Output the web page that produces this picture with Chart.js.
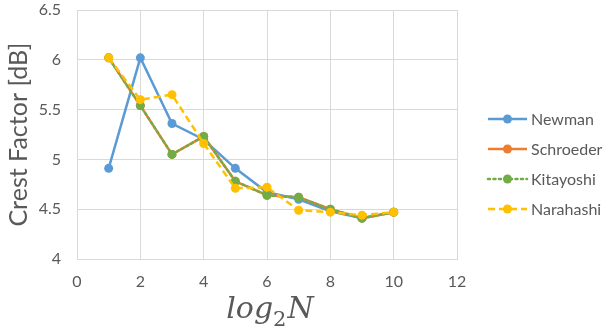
<!DOCTYPE html>
<html>
<head>
<meta charset="utf-8">
<script src="https://cdn.jsdelivr.net/npm/chart.js@4/dist/chart.umd.min.js"></script>
<style>
html,body{margin:0;padding:0;background:#fff;}
#wrap{width:603px;height:333px;position:relative;}
</style>
</head>
<body>
<div id="wrap"><canvas id="c" width="603" height="333"></canvas></div>
<script>
const xValues = [1, 2, 3, 4, 5, 6, 7, 8, 9, 10];
const newman = [4.91, 6.02, 5.36, 5.20, 4.91, 4.67, 4.60, 4.48, 4.41, 4.47];
const schroeder = [6.02, 5.54, 5.05, 5.23, 4.78, 4.64, 4.62, 4.50, 4.41, 4.47];
const kitayoshi = [6.02, 5.54, 5.05, 5.23, 4.78, 4.64, 4.62, 4.50, 4.41, 4.47];
const narahashi = [6.02, 5.60, 5.65, 5.16, 4.71, 4.72, 4.49, 4.47, 4.44, 4.47];
const seriesNames = ["Newman", "Schroeder", "Kitayoshi", "Narahashi"];
const yTitle = "Crest Factor [dB]";
const xTitleParts = ["log", "2", "N"];

const colors = ["#5B9BD5", "#ED7D31", "#70AD47", "#FFC000"];
const dashes = [[], [], [2, 3.5], [7, 4]];
const orders = [4, 3, 2, 1];
const allSeries = [newman, schroeder, kitayoshi, narahashi];
const textColor = '#595959';
const uiFont = 'Lato, "Open Sans", sans-serif';

const datasets = allSeries.map((vals, i) => ({
  label: seriesNames[i],
  data: xValues.map((x, j) => ({x: x, y: vals[j]})),
  borderColor: colors[i],
  backgroundColor: colors[i],
  pointBackgroundColor: colors[i],
  pointBorderColor: colors[i],
  borderWidth: 2.5,
  borderDash: dashes[i],
  borderCapStyle: i === 2 ? 'round' : 'butt',
  pointRadius: 4.5,
  pointHoverRadius: 4.5,
  pointBorderWidth: 0,
  tension: 0,
  order: orders[i],
  fill: false
}));

const legendPlugin = {
  id: 'customLegend',
  afterDraw(chart) {
    const ctx = chart.ctx;
    const x0 = 488, x1 = 527, tx = 531;
    const ys = [119, 149, 179, 209];
    ctx.save();
    seriesNames.forEach((name, i) => {
      const y = ys[i];
      ctx.strokeStyle = colors[i];
      ctx.lineWidth = 2.5;
      ctx.lineCap = i === 2 ? 'round' : 'butt';
      ctx.setLineDash(dashes[i]);
      ctx.beginPath();
      ctx.moveTo(x0, y);
      ctx.lineTo(x1, y);
      ctx.stroke();
      ctx.setLineDash([]);
      ctx.fillStyle = colors[i];
      ctx.beginPath();
      ctx.arc((x0 + x1) / 2, y, 4.5, 0, Math.PI * 2);
      ctx.fill();
      ctx.fillStyle = textColor;
      ctx.font = '16px ' + uiFont;
      ctx.textBaseline = 'middle';
      ctx.textAlign = 'left';
      ctx.fillText(name, tx, y + 1);
    });
    // x-axis title: italic "log", upright subscript "2", italic "N"
    const area = chart.chartArea;
    const cx = (area.left + area.right) / 2 + 3;
    const baseY = 318;
    const fBig = 'italic 30px "DejaVu Serif", serif';
    const fSub = '21px "DejaVu Serif", serif';
    ctx.font = fBig; const w0 = ctx.measureText(xTitleParts[0]).width;
    const w2 = ctx.measureText(xTitleParts[2]).width;
    ctx.font = fSub; const w1 = ctx.measureText(xTitleParts[1]).width;
    let x = cx - (w0 + w1 + w2 + 1) / 2;
    ctx.fillStyle = textColor;
    ctx.textBaseline = 'alphabetic';
    ctx.textAlign = 'left';
    ctx.font = fBig; ctx.fillText(xTitleParts[0], x, baseY); x += w0;
    ctx.font = fSub; ctx.fillText(xTitleParts[1], x, baseY + 8); x += w1 + 1;
    ctx.font = fBig; ctx.fillText(xTitleParts[2], x, baseY);
    ctx.restore();
  }
};

new Chart(document.getElementById('c'), {
  type: 'line',
  data: { datasets: datasets },
  plugins: [legendPlugin],
  options: {
    responsive: false,
    animation: false,
    events: [],
    layout: { padding: { top: 10, right: 146, left: 0, bottom: 0 } },
    plugins: { legend: { display: false }, tooltip: { enabled: false } },
    scales: {
      x: {
        type: 'linear',
        min: 0, max: 12,
        ticks: { stepSize: 2, color: textColor, font: { family: uiFont, size: 16 }, padding: 13, maxRotation: 0 },
        grid: { color: '#d9d9d9', lineWidth: 1, drawTicks: false },
        border: { color: '#d9d9d9', width: 1 },
        afterFit(scale) { scale.height = 74; scale.paddingLeft = 0; scale.paddingRight = 0; }
      },
      y: {
        type: 'linear',
        min: 4, max: 6.5,
        ticks: { stepSize: 0.5, color: textColor, font: { family: uiFont, size: 16 }, padding: 16,
          callback: (v) => String(Math.round(v * 10) / 10) },
        grid: { color: '#d9d9d9', lineWidth: 1, drawTicks: false },
        border: { color: '#d9d9d9', width: 1 },
        title: { display: true, text: yTitle, color: textColor, font: { family: uiFont, size: 25 }, padding: { top: 4, bottom: 0 } },
        afterFit(scale) { scale.width = 77; scale.paddingTop = 0; scale.paddingBottom = 0; }
      }
    }
  }
});
</script>
</body>
</html>
